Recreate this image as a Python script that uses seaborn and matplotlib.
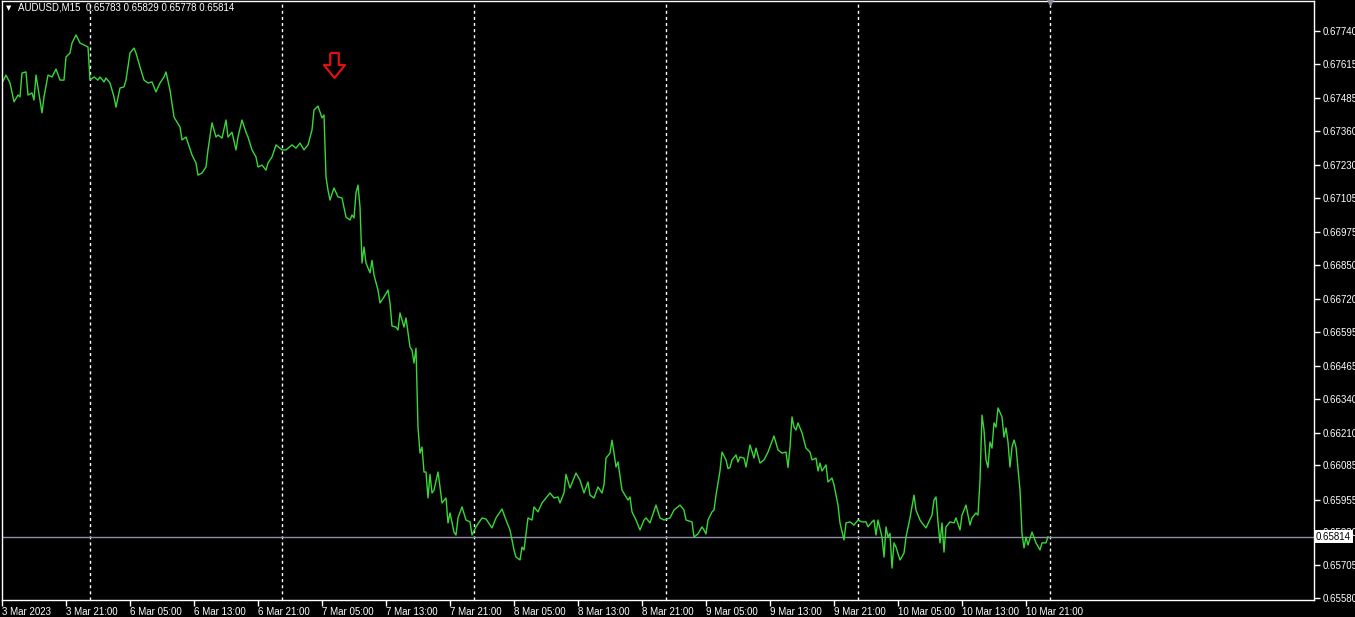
import numpy as np
import pandas as pd
import seaborn as sns
import matplotlib.pyplot as plt
import matplotlib.transforms as mtransforms
from matplotlib.path import Path

# AUDUSD M15 closes (time of bar, close) per trading day
mar03_times = ["13:00", "13:30", "14:00", "14:30", "15:00", "15:15", "15:30", "16:00", "16:15",
               "16:45", "17:00", "17:15", "18:00", "18:15", "18:45", "19:15", "19:45", "20:15",
               "20:45", "21:00", "21:30", "21:45", "22:15", "22:45", "23:15", "23:45"]
mar03_close = [0.67542, 0.67572, 0.67542, 0.67470, 0.67496, 0.67489, 0.67580, 0.67584, 0.67496,
               0.67504, 0.67477, 0.67572, 0.67428, 0.67489, 0.67572, 0.67565, 0.67595, 0.67553,
               0.67553, 0.67641, 0.67656, 0.67694, 0.67725, 0.67694, 0.67687, 0.67679]

mar06_times = ["00:00", "00:30", "01:00", "01:15", "01:45", "02:00", "02:30", "03:00", "03:15",
               "03:45", "04:15", "04:30", "05:00", "05:30", "05:45", "06:15", "06:45", "07:15",
               "07:45", "08:15", "08:45", "09:15", "09:30", "10:00", "10:30", "11:15", "11:30",
               "12:00", "12:15", "12:45", "13:15", "13:30", "14:00", "14:30", "14:45", "15:15",
               "15:45", "16:00", "16:30", "17:00", "17:15", "17:45", "18:15", "18:30", "19:00",
               "19:30", "19:45", "20:15", "20:45", "21:00", "21:30", "22:00", "22:15", "22:45",
               "23:15"]
mar06_close = [0.67553, 0.67565, 0.67553, 0.67565, 0.67546, 0.67561, 0.67542, 0.67489, 0.67450,
               0.67523, 0.67527, 0.67553, 0.67656, 0.67675, 0.67656, 0.67603, 0.67553, 0.67542,
               0.67546, 0.67508, 0.67542, 0.67565, 0.67584, 0.67515, 0.67412, 0.67374, 0.67325,
               0.67336, 0.67313, 0.67268, 0.67237, 0.67191, 0.67199, 0.67222, 0.67287, 0.67390,
               0.67336, 0.67344, 0.67332, 0.67401, 0.67336, 0.67354, 0.67287, 0.67336, 0.67401,
               0.67354, 0.67336, 0.67287, 0.67260, 0.67222, 0.67229, 0.67210, 0.67237, 0.67260,
               0.67306]

mar07_times = ["00:00", "00:30", "01:15", "01:45", "02:15", "02:45", "03:15", "03:45", "04:00",
               "04:30", "05:00", "05:15", "05:30", "05:45", "06:00", "06:30", "07:00", "07:30",
               "08:00", "08:30", "08:45", "09:00", "09:15", "09:30", "09:45", "10:00", "10:15",
               "10:30", "11:00", "11:15", "11:30", "12:00", "12:15", "12:45", "13:15", "13:30",
               "13:45", "14:15", "14:30", "14:45", "15:15", "15:30", "16:00", "16:15", "16:30",
               "16:45", "17:00", "17:15", "17:30", "17:45", "18:00", "18:15", "18:30", "18:45",
               "19:00", "19:30", "19:45", "20:00", "20:30", "20:45", "21:00", "21:30", "21:45",
               "22:00", "22:30", "23:00", "23:30", "23:45"]
mar07_close = [0.67287, 0.67287, 0.67306, 0.67294, 0.67313, 0.67287, 0.67306, 0.67363, 0.67439,
               0.67454, 0.67409, 0.67420, 0.67184, 0.67134, 0.67096, 0.67142, 0.67108, 0.67104,
               0.67031, 0.67020, 0.67039, 0.67028, 0.67123, 0.67153, 0.67070, 0.66856, 0.66917,
               0.66856, 0.66819, 0.66866, 0.66810, 0.66753, 0.66704, 0.66727, 0.66753, 0.66704,
               0.66616, 0.66612, 0.66601, 0.66666, 0.66612, 0.66647, 0.66536, 0.66525, 0.66475,
               0.66532, 0.66231, 0.66132, 0.66155, 0.66060, 0.66060, 0.65961, 0.66051, 0.65980,
               0.65991, 0.66060, 0.66003, 0.65942, 0.65961, 0.65866, 0.65904, 0.65831, 0.65820,
               0.65885, 0.65927, 0.65877, 0.65870, 0.65820]

mar08_times = ["00:15", "01:00", "01:30", "02:15", "02:45", "03:30", "04:00", "04:30", "05:00",
               "05:15", "05:45", "06:00", "06:15", "06:45", "07:15", "07:30", "08:00", "08:30",
               "09:00", "09:30", "10:00", "10:30", "10:45", "11:15", "11:30", "12:00", "12:45",
               "13:15", "13:45", "14:15", "14:30", "15:00", "15:30", "16:00", "16:15", "16:30",
               "17:00", "17:15", "17:30", "17:45", "18:00", "18:30", "19:15", "19:30", "19:45",
               "20:15", "20:45", "21:15", "21:30", "22:00", "22:45", "23:15", "23:45"]
mar08_close = [0.65851, 0.65885, 0.65881, 0.65847, 0.65885, 0.65919, 0.65877, 0.65839, 0.65763,
               0.65736, 0.65725, 0.65774, 0.65763, 0.65885, 0.65877, 0.65927, 0.65908, 0.65942,
               0.65961, 0.65980, 0.65961, 0.65965, 0.65942, 0.65980, 0.66051, 0.65999, 0.66056,
               0.66029, 0.65980, 0.66022, 0.65972, 0.65961, 0.66003, 0.65980, 0.66011, 0.66113,
               0.66132, 0.66181, 0.66132, 0.66079, 0.66098, 0.65991, 0.65953, 0.65965, 0.65908,
               0.65877, 0.65839, 0.65877, 0.65885, 0.65866, 0.65934, 0.65885, 0.65877]

mar09_times = ["00:30", "01:00", "01:45", "02:15", "02:30", "03:15", "03:30", "04:00", "04:30",
               "04:45", "05:00", "05:15", "05:45", "06:00", "06:15", "06:45", "07:00", "07:30",
               "07:45", "08:00", "08:15", "08:45", "09:00", "09:15", "09:45", "10:00", "10:30",
               "11:00", "11:15", "11:45", "12:15", "12:45", "13:30", "14:00", "14:30", "15:00",
               "15:15", "15:30", "15:45", "16:00", "16:15", "16:30", "17:00", "17:30", "18:00",
               "18:15", "18:45", "19:00", "19:15", "19:30", "20:00", "20:15", "20:45", "21:00",
               "21:30", "21:45", "22:15", "22:30", "23:00", "23:30"]
mar09_close = [0.65885, 0.65915, 0.65934, 0.65915, 0.65877, 0.65870, 0.65812, 0.65824, 0.65851,
               0.65839, 0.65824, 0.65877, 0.65908, 0.65915, 0.65972, 0.66064, 0.66136, 0.66106,
               0.66073, 0.66077, 0.66106, 0.66125, 0.66098, 0.66117, 0.66113, 0.66079, 0.66163,
               0.66113, 0.66151, 0.66094, 0.66106, 0.66136, 0.66197, 0.66144, 0.66132, 0.66136,
               0.66077, 0.66155, 0.66270, 0.66231, 0.66220, 0.66247, 0.66209, 0.66151, 0.66136,
               0.66106, 0.66113, 0.66064, 0.66094, 0.66064, 0.66087, 0.66022, 0.66037, 0.66011,
               0.65934, 0.65866, 0.65801, 0.65866, 0.65870, 0.65858]

mar10_times = ["00:00", "00:30", "01:00", "01:15", "01:45", "02:00", "02:15", "02:30", "03:00",
               "03:15", "03:30", "03:45", "04:00", "04:15", "04:30", "04:45", "05:15", "05:45",
               "06:00", "06:30", "07:00", "07:15", "07:45", "08:00", "08:30", "09:15", "09:30",
               "09:45", "10:00", "10:15", "10:30", "10:45", "11:00", "11:30", "12:00", "12:15",
               "12:45", "13:00", "13:30", "14:00", "14:15", "14:45", "15:00", "15:15", "15:30",
               "15:45", "16:00", "16:15", "16:30", "16:45", "17:00", "17:15", "17:30", "18:00",
               "18:15", "18:30", "18:45", "19:00", "19:15", "19:30", "19:45", "20:15", "20:30",
               "20:45", "21:00", "21:15", "21:45", "22:15", "22:45", "23:00", "23:30", "23:45"]
mar10_close = [0.65877, 0.65870, 0.65870, 0.65851, 0.65870, 0.65877, 0.65820, 0.65877, 0.65812,
               0.65736, 0.65851, 0.65812, 0.65826, 0.65694, 0.65790, 0.65774, 0.65725, 0.65751,
               0.65812, 0.65885, 0.65972, 0.65915, 0.65877, 0.65866, 0.65847, 0.65896, 0.65953,
               0.65965, 0.65870, 0.65790, 0.65866, 0.65755, 0.65851, 0.65870, 0.65866, 0.65885,
               0.65839, 0.65896, 0.65934, 0.65858, 0.65885, 0.65904, 0.65896, 0.66029, 0.66277,
               0.66220, 0.66106, 0.66077, 0.66174, 0.66151, 0.66247, 0.66231, 0.66304, 0.66270,
               0.66193, 0.66228, 0.66174, 0.66079, 0.66155, 0.66182, 0.66155, 0.65991, 0.65826,
               0.65771, 0.65812, 0.65782, 0.65831, 0.65790, 0.65763, 0.65790, 0.65790, 0.65814]

# header (open high low close of the last bar) and current bid
symbol = "AUDUSD,M15"
last_ohlc = [0.65783, 0.65829, 0.65778, 0.65814]
bid = 0.65814

# red sell arrow
arrow_time = "2023-03-07 06:30"
arrow_price = 0.67610

# axis ticks
price_ticks = [0.65580, 0.65705, 0.65830, 0.65955, 0.66085, 0.66210, 0.66340, 0.66465, 0.66595,
               0.66720, 0.66850, 0.66975, 0.67105, 0.67230, 0.67360, 0.67485, 0.67615, 0.67740]
tick_times = ["2023-03-03 13:00", "2023-03-03 21:00", "2023-03-06 05:00", "2023-03-06 13:00",
              "2023-03-06 21:00", "2023-03-07 05:00", "2023-03-07 13:00", "2023-03-07 21:00",
              "2023-03-08 05:00", "2023-03-08 13:00", "2023-03-08 21:00", "2023-03-09 05:00",
              "2023-03-09 13:00", "2023-03-09 21:00", "2023-03-10 05:00", "2023-03-10 13:00",
              "2023-03-10 21:00"]
tick_labels = ["3 Mar 2023", "3 Mar 21:00", "6 Mar 05:00", "6 Mar 13:00", "6 Mar 21:00",
               "7 Mar 05:00", "7 Mar 13:00", "7 Mar 21:00", "8 Mar 05:00", "8 Mar 13:00",
               "8 Mar 21:00", "9 Mar 05:00", "9 Mar 13:00", "9 Mar 21:00", "10 Mar 05:00",
               "10 Mar 13:00", "10 Mar 21:00"]
day_starts = ["2023-03-06", "2023-03-07", "2023-03-08", "2023-03-09", "2023-03-10", "2023-03-11"]

# build the table
days = [("2023-03-03", mar03_times, mar03_close), ("2023-03-06", mar06_times, mar06_close),
        ("2023-03-07", mar07_times, mar07_close), ("2023-03-08", mar08_times, mar08_close),
        ("2023-03-09", mar09_times, mar09_close), ("2023-03-10", mar10_times, mar10_close)]
frames = []
for day, t, c in days:
    frames.append(pd.DataFrame({"time": pd.to_datetime([day + " " + s for s in t]), "close": c}))
df = pd.concat(frames, ignore_index=True)

# MT4 bar axis: one slot per 15 min bar, weekend skipped
bars = pd.date_range("2023-03-03 13:00", "2023-03-03 23:45", freq="15min").append(
    pd.date_range("2023-03-06 00:00", "2023-03-11 00:00", freq="15min"))
df["bar"] = bars.get_indexer(df["time"])

sns.set_theme(style="ticks")
plt.rcParams["font.family"] = ["Liberation Sans", "DejaVu Sans"]

W, H = 1355, 617
fig = plt.figure(figsize=(W / 100, H / 100), dpi=100, facecolor="black")
ax = fig.add_axes([2 / W, 17 / H, 1312 / W, 599 / H])
ax.set_facecolor("black")

sns.lineplot(data=df, x="bar", y="close", ax=ax, color="#38d838", linewidth=1)

ax.set_xlim(0, 656)
ax.set_ylim(0.655724, 0.678543)

# day separators
for d in bars.get_indexer(pd.to_datetime(day_starts)):
    ax.axvline(d, color="white", lw=1, linestyle=(0, (2.2, 2.2)), zorder=1)

# bid line
ax.axhline(bid, color="#8e8eaa", lw=1, zorder=1)

# ticks
ax.yaxis.tick_right()
ax.set_yticks(price_ticks, [f"{p:.5f}" for p in price_ticks])
ax.set_xticks(bars.get_indexer(pd.to_datetime(tick_times)), tick_labels)
for lab in ax.get_xticklabels():
    lab.set_ha("left")
ax.tick_params(axis="y", colors="white", length=4, width=1, pad=2, labelsize=7)
ax.tick_params(axis="x", colors="white", length=4, width=1, pad=1, labelsize=7)
ax.set_xlabel("")
ax.set_ylabel("")
for s in ax.spines.values():
    s.set_color("white")
    s.set_linewidth(1)

# bid label box on the price scale
trans = mtransforms.blended_transform_factory(ax.transAxes, ax.transData)
ax.text(1.0016, bid, f"{bid:.5f}", transform=trans, ha="left", va="center", fontsize=7,
        color="black", zorder=10, clip_on=False,
        bbox=dict(facecolor="white", edgecolor="none", boxstyle="square,pad=0.15"))

# chart shift marker
ax.plot(bars.get_indexer(pd.to_datetime(["2023-03-11"]))[0], 0.678543, marker="v",
        color="#8a8a9a", markersize=6, clip_on=False, zorder=5)

# red hollow down arrow (MT4 sell arrow)
arrow_shape = Path([(-0.17, 0.5), (0.17, 0.5), (0.17, 0.02), (0.42, 0.02), (0.0, -0.5),
                    (-0.42, 0.02), (-0.17, 0.02), (-0.17, 0.5)])
ax.plot(bars.get_indexer(pd.to_datetime([arrow_time]))[0], arrow_price, marker=arrow_shape,
        markersize=18, markerfacecolor="none", markeredgecolor="#e01010", markeredgewidth=1.6,
        linestyle="none", zorder=6)

# header
fig.text(6 / W, 1 - 8 / H, "\u25bc", color="white", fontsize=5, va="center", family="DejaVu Sans")
fig.text(18 / W, 1 - 8 / H, symbol + "  " + " ".join(f"{v:.5f}" for v in last_ohlc),
         color="white", fontsize=7, va="center")

fig.savefig("out.png", dpi=100, facecolor="black")
